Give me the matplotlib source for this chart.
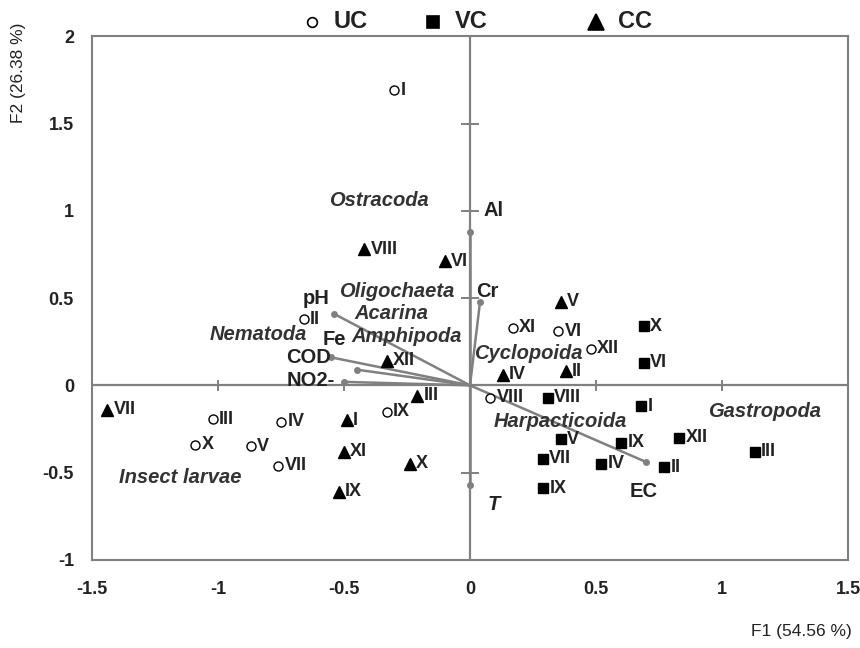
import matplotlib.pyplot as plt

plt.rcParams['font.family'] = ['Liberation Sans', 'DejaVu Sans']

# sites (roman numeral = month), F1/F2 scores
uc_labels = ["I", "II", "III", "IV", "V", "VI", "VII", "VIII", "IX", "X", "XI", "XII"]
uc_x = [-0.30, -0.66, -1.02, -0.75, -0.87, 0.35, -0.76, 0.08, -0.33, -1.09, 0.17, 0.48]
uc_y = [1.69, 0.38, -0.195, -0.21, -0.35, 0.31, -0.46, -0.07, -0.15, -0.34, 0.33, 0.21]

vc_labels = ["I", "II", "III", "IV", "V", "VI", "VII", "VIII", "IX", "X", "IX", "XII"]
vc_x = [0.68, 0.77, 1.13, 0.52, 0.36, 0.69, 0.29, 0.31, 0.60, 0.69, 0.29, 0.83]
vc_y = [-0.12, -0.47, -0.38, -0.45, -0.31, 0.13, -0.42, -0.07, -0.33, 0.34, -0.59, -0.30]

cc_labels = ["I", "II", "III", "IV", "V", "VI", "VII", "VIII", "IX", "X", "XI", "XII"]
cc_x = [-0.49, 0.38, -0.21, 0.13, 0.36, -0.10, -1.44, -0.42, -0.52, -0.24, -0.50, -0.33]
cc_y = [-0.20, 0.08, -0.06, 0.06, 0.48, 0.71, -0.14, 0.78, -0.61, -0.45, -0.38, 0.14]

# environmental vectors
env_names = ["pH", "COD", "Fe", "NO2-", "Cr", "Al", "EC", "T"]
env_x = [-0.54, -0.55, -0.45, -0.50, 0.04, 0.00, 0.70, 0.00]
env_y = [0.41, 0.16, 0.09, 0.02, 0.48, 0.88, -0.44, -0.57]
env_lab_x = [-0.61, -0.64, -0.54, -0.63, 0.07, 0.095, 0.69, 0.095]
env_lab_y = [0.495, 0.16, 0.26, 0.03, 0.54, 1.0, -0.61, -0.68]

# taxa
taxa = ["Ostracoda", "Oligochaeta", "Acarina", "Amphipoda", "Nematoda",
        "Cyclopoida", "Harpacticoida", "Gastropoda", "Insect larvae"]
taxa_x = [-0.36, -0.29, -0.31, -0.25, -0.84, 0.23, 0.36, 1.17, -1.15]
taxa_y = [1.06, 0.54, 0.41, 0.28, 0.29, 0.18, -0.21, -0.15, -0.53]

grey = "#808080"
txt = "#222222"

fig = plt.figure(figsize=(8.6, 6.48), dpi=100)
ax = fig.add_axes([0.107, 0.136, 0.879, 0.808])
ax.set_xlim(-1.5, 1.5)
ax.set_ylim(-1, 2)

for s in ax.spines.values():
    s.set_color(grey)
    s.set_linewidth(1.5)

# centre cross with small ticks
ax.axhline(0, color=grey, lw=1.6, zorder=1)
ax.axvline(0, color=grey, lw=1.6, zorder=1)
for t in [-1, -0.5, 0.5, 1]:
    ax.plot([t, t], [-0.025, 0.025], color=grey, lw=1.4, zorder=1)
for t in [-0.5, 0.5, 1, 1.5]:
    ax.plot([-0.032, 0.032], [t, t], color=grey, lw=1.4, zorder=1)

for x, y in zip(env_x, env_y):
    ax.plot([0, x], [0, y], color=grey, lw=1.8, zorder=2)
    ax.plot(x, y, "o", color=grey, ms=4, zorder=2)
for i, n in enumerate(env_names):
    ax.text(env_lab_x[i], env_lab_y[i], n, fontsize=14.5, fontweight="bold",
            color=txt, ha="center", va="center",
            style="italic" if n == "T" else "normal")

for i, n in enumerate(taxa):
    ax.text(taxa_x[i], taxa_y[i], n, fontsize=14.5, fontweight="bold", style="italic",
            color="#333333", ha="center", va="center")

def sites(xs, ys, labels, marker, face, ms):
    ax.plot(xs, ys, marker, ls="none", ms=ms, mfc=face, mec="black", mew=1, zorder=3)
    for x, y, l in zip(xs, ys, labels):
        ax.annotate(l, (x, y), xytext=(4.5, 0), textcoords="offset points",
                    fontsize=13, fontweight="bold", color=txt, va="center")

sites(uc_x, uc_y, uc_labels, "o", "white", 6.5)
sites(vc_x, vc_y, vc_labels, "s", "black", 7)
sites(cc_x, cc_y, cc_labels, "^", "black", 9)

ax.set_xticks([-1.5, -1, -0.5, 0, 0.5, 1, 1.5])
ax.set_xticklabels(["-1.5", "-1", "-0.5", "0", "0.5", "1", "1.5"])
ax.set_yticks([-1, -0.5, 0, 0.5, 1, 1.5, 2])
ax.set_yticklabels(["-1", "-0.5", "0", "0.5", "1", "1.5", "2"])
ax.tick_params(length=0, labelsize=13, pad=15, colors=txt)
ax.tick_params(axis="y", pad=13)
for lab in ax.get_xticklabels() + ax.get_yticklabels():
    lab.set_fontweight("bold")

fig.text(0.99, 0.025, "F1 (54.56 %)", ha="right", va="center", fontsize=12.5, color=txt)
fig.text(0.022, 0.888, "F2 (26.38 %)", ha="center", va="center", rotation=90,
         fontsize=12.5, color=txt)

# legend row above the frame
leg = [("o", "white", 7, "UC", 312), ("s", "black", 8, "VC", 433), ("^", "black", 11, "CC", 596)]
for m, fc, ms, name, px in leg:
    fig.lines.append(plt.Line2D([px / 860], [1 - 22 / 648], marker=m, ms=ms, mfc=fc,
                                mec="black", mew=1.2, ls="none", transform=fig.transFigure))
    fig.text((px + 22) / 860, 1 - 22 / 648, name, fontsize=17, fontweight="bold",
             color=txt, va="center")

fig.savefig("out.png", dpi=100)
